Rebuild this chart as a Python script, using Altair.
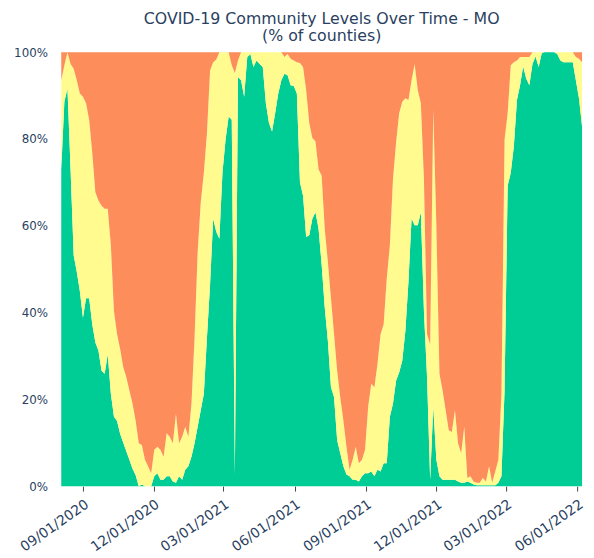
import altair as alt
import pandas as pd

# sample dates (every 4 days)
dates = pd.date_range("2020-08-04", periods=169, freq="4D").strftime("%Y-%m-%dT00:00:00").tolist()

low = [73.0, 88.6, 91.6, 73.0, 53.2, 49.4, 44.9, 38.8, 43.3, 43.3,
       37.3, 33.1, 31.2, 26.6, 25.9, 30.4, 21.3, 16.0, 15.0, 12.0,
       10.0, 8.0, 6.0, 4.0, 2.5, 0.0, 0.4, 0.0, 0.0, 0.0,
       2.3, 3.0, 1.5, 1.5, 2.3, 2.3, 1.1, 0.8, 2.3, 1.5,
       3.8, 4.6, 6.8, 9.9, 13.7, 17.5, 21.3, 34.2, 46.4, 61.6,
       58.6, 57.0, 72.2, 79.8, 85.2, 84.4, 2.7, 94.3, 93.5, 89.7,
       98.9, 99.6, 96.6, 98.1, 97.3, 96.6, 88.2, 83.7, 81.7, 85.9,
       90.5, 93.5, 95.0, 94.7, 92.4, 92.2, 90.5, 70.0, 66.9, 57.4,
       57.8, 61.6, 63.1, 59.3, 51.0, 41.1, 33.5, 22.8, 20.5, 10.6,
       7.6, 4.6, 2.7, 2.3, 1.5, 1.5, 1.1, 2.3, 3.0, 3.0,
       3.4, 2.3, 3.8, 3.4, 5.3, 5.3, 16.0, 19.0, 24.3, 26.2,
       28.9, 35.7, 47.1, 61.6, 60.1, 60.1, 63.1, 40.3, 25.1, 1.5,
       18.3, 6.1, 2.3, 1.5, 1.5, 1.5, 1.5, 1.5, 1.1, 0.8,
       0.8, 1.1, 0.8, 0.4, 0.2, 0.2, 0.2, 0.2, 0.2, 0.2,
       0.2, 0.8, 2.3, 22.1, 69.2, 72.2, 78.3, 89.0, 92.4, 96.7,
       93.9, 92.4, 97.3, 99.0, 96.6, 99.8, 100.0, 100.0, 100.0, 100.0,
       99.6, 98.1, 97.7, 97.7, 97.7, 97.7, 93.5, 89.4, 82.9]

medium = [20.5, 8.4, 8.4, 24.3, 43.0, 44.1, 45.6, 50.9, 44.9, 41.1,
          39.5, 34.6, 34.6, 38.0, 38.0, 33.5, 34.2, 24.3, 20.0, 19.6,
          17.4, 17.1, 16.0, 15.0, 12.5, 9.9, 9.1, 6.1, 4.6, 3.0,
          6.1, 6.1, 6.9, 5.3, 9.9, 9.1, 8.8, 15.9, 7.6, 9.9,
          9.9, 6.8, 12.2, 24.3, 40.3, 47.9, 50.9, 47.2, 49.4, 36.1,
          39.7, 43.0, 27.8, 20.2, 14.8, 12.6, 92.5, 3.8, 6.5, 10.3,
          1.1, 0.4, 3.4, 1.9, 2.7, 3.4, 11.8, 16.3, 18.3, 14.1,
          9.5, 6.5, 3.9, 4.9, 6.1, 5.9, 7.2, 27.5, 29.7, 33.9,
          25.9, 18.6, 16.4, 13.7, 20.5, 18.2, 18.2, 20.5, 14.5, 16.0,
          12.9, 10.6, 6.4, 1.5, 4.6, 7.6, 4.2, 3.8, 5.4, 15.3,
          20.2, 20.5, 24.3, 31.6, 32.0, 42.6, 39.5, 51.7, 54.8, 59.7,
          59.7, 53.7, 41.9, 31.9, 37.2, 31.2, 25.1, 30.4, 9.9, 31.2,
          68.5, 53.9, 23.6, 20.6, 16.0, 11.4, 11.0, 16.0, 8.8, 6.8,
          12.9, 0.8, 1.5, 0.7, 0.6, 0.6, 1.7, 0.9, 4.4, 0.6,
          3.2, 5.3, 19.0, 57.7, 16.7, 24.8, 19.4, 9.1, 6.5, 2.2,
          5.0, 6.5, 2.7, 1.0, 3.4, 0.2, 0.0, 0.0, 0.0, 0.0,
          0.4, 1.9, 2.3, 2.3, 2.3, 2.3, 5.4, 9.1, 14.8]

high = [6.5, 3.0, 0.0, 2.7, 3.8, 6.5, 9.5, 10.3, 11.8, 15.6,
        23.2, 32.3, 34.2, 35.4, 36.1, 36.1, 44.5, 59.7, 65.0, 68.4,
        72.6, 74.9, 78.0, 81.0, 85.0, 90.1, 90.5, 93.9, 95.4, 97.0,
        91.6, 90.9, 91.6, 93.2, 87.8, 88.6, 90.1, 83.3, 90.1, 88.6,
        86.3, 88.6, 81.0, 65.8, 46.0, 34.6, 27.8, 18.6, 4.2, 2.3,
        1.7, 0.0, 0.0, 0.0, 0.0, 3.0, 4.8, 1.9, 0.0, 0.0,
        0.0, 0.0, 0.0, 0.0, 0.0, 0.0, 0.0, 0.0, 0.0, 0.0,
        0.0, 0.0, 1.1, 0.4, 1.5, 1.9, 2.3, 2.5, 3.4, 8.7,
        16.3, 19.8, 20.5, 27.0, 28.5, 40.7, 48.3, 56.7, 65.0, 73.4,
        79.5, 84.8, 90.9, 96.2, 93.9, 90.9, 94.7, 93.9, 91.6, 81.7,
        76.4, 77.2, 71.9, 65.0, 62.7, 52.1, 44.5, 29.3, 20.9, 14.1,
        11.4, 10.6, 11.0, 6.5, 2.7, 8.7, 11.8, 29.3, 65.0, 67.3,
        13.2, 40.0, 74.1, 77.9, 82.5, 87.1, 87.5, 82.5, 90.1, 92.4,
        86.3, 98.1, 97.7, 98.9, 99.2, 99.2, 98.1, 98.9, 95.4, 99.2,
        96.6, 93.9, 78.7, 20.2, 14.1, 3.0, 2.3, 1.9, 1.1, 1.1,
        1.1, 1.1, 0.0, 0.0, 0.0, 0.0, 0.0, 0.0, 0.0, 0.0,
        0.0, 0.0, 0.0, 0.0, 0.0, 0.0, 1.1, 1.5, 2.3]

levels = ["Low", "Medium", "High"]
colors = ["#00CC96", "#FFFB8F", "#FD8D5A"]
y_ticks = [0, 20, 40, 60, 80, 100]

rows = []
for d, l, m, h in zip(dates, low, medium, high):
    rows.append({"date": d, "level": "Low", "order": 0, "pct": l})
    rows.append({"date": d, "level": "Medium", "order": 1, "pct": m})
    rows.append({"date": d, "level": "High", "order": 2, "pct": h})
df = pd.DataFrame(rows)

x_ticks = [
    alt.DateTime(year=2020, month=9, date=1),
    alt.DateTime(year=2020, month=12, date=1),
    alt.DateTime(year=2021, month=3, date=1),
    alt.DateTime(year=2021, month=6, date=1),
    alt.DateTime(year=2021, month=9, date=1),
    alt.DateTime(year=2021, month=12, date=1),
    alt.DateTime(year=2022, month=3, date=1),
    alt.DateTime(year=2022, month=6, date=1),
]

font = "DejaVu Sans"
text_color = "#2a3f5f"

chart = alt.Chart(df).mark_area(interpolate="linear").encode(
    x=alt.X(
        "date:T",
        scale=alt.Scale(
            domain=[alt.DateTime(year=2020, month=8, date=4),
                    alt.DateTime(year=2022, month=6, date=7)],
            nice=False,
        ),
        axis=alt.Axis(
            values=x_ticks, format="%m/%d/%Y", labelAngle=-35,
            labelAlign="right", labelBaseline="top", tickSize=5,
            tickColor="#444444", domain=False, grid=False,
            labelFontSize=14, labelColor=text_color, labelFont=font,
            labelOverlap=False, labelPadding=6, labelBound=False,
            labelFlush=False, title=None,
        ),
    ),
    y=alt.Y(
        "pct:Q", stack="zero",
        scale=alt.Scale(domain=[0, 100], nice=False),
        axis=alt.Axis(
            values=y_ticks, labelExpr="datum.value + '%'", ticks=False,
            domain=False, grid=False, labelPadding=14, labelFontSize=12,
            labelColor=text_color, labelFont=font, title=None,
        ),
    ),
    color=alt.Color("level:N", scale=alt.Scale(domain=levels, range=colors), legend=None),
    order=alt.Order("order:Q"),
).properties(
    width=528,
    height=440,
    title=alt.TitleParams(
        text=["COVID-19 Community Levels Over Time - MO", "(% of counties)"],
        fontSize=16, font=font, fontWeight="normal", color=text_color,
        anchor="middle", offset=2, lineHeight=18,
    ),
    padding={"left": 54, "top": 41, "right": 4, "bottom": 64},
    autosize=alt.AutoSizeParams(type="none"),
    background="white",
).configure_view(stroke=None)

chart.save("out.html", embed_options={"renderer": "svg", "actions": False})
